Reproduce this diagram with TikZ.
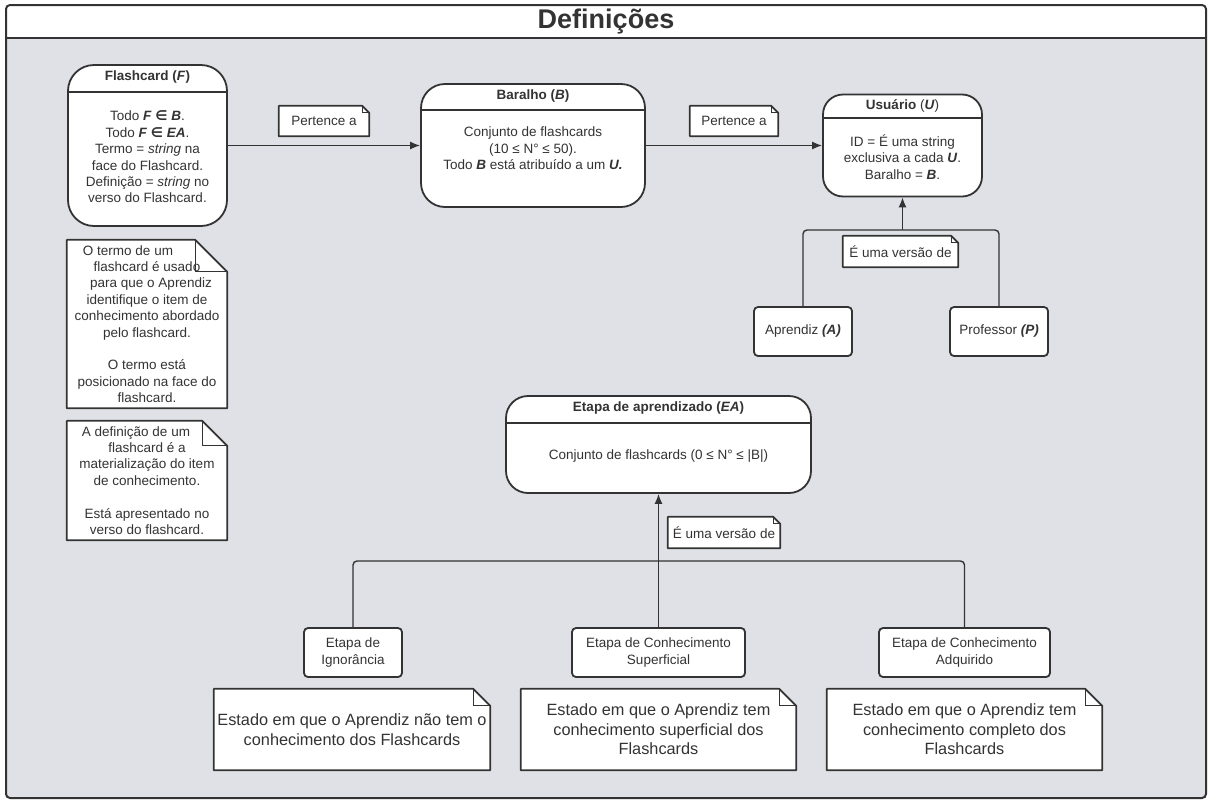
\documentclass[tikz,border=0pt]{standalone}
\usepackage{fontspec}
\setmainfont{Liberation Sans}
\newfontfamily\dejavu{DejaVu Sans}
\usetikzlibrary{arrows.meta}
\definecolor{ink}{HTML}{333333}
\definecolor{canvasbg}{HTML}{DFE1E6}
\newcommand\elem{{\dejavu\bfseries ∈}}
\newcommand\dogear[2]{%
  \fill[canvasbg] ([xshift=-#2pt,yshift=1pt]#1.north east) -- ([xshift=1pt,yshift=1pt]#1.north east) -- ([xshift=1pt,yshift=-#2pt]#1.north east) -- cycle;
  \draw[ink, line width=1.7pt, line join=round] (#1.north west) -- ([xshift=-#2pt]#1.north east) -- ([yshift=-#2pt]#1.north east) -- (#1.south east) -- (#1.south west) -- cycle;
  \draw[ink, line width=1.2pt] ([xshift=-#2pt]#1.north east) -- ([xshift=-#2pt,yshift=-#2pt]#1.north east) -- ([yshift=-#2pt]#1.north east);
}
\tikzset{
  basefont/.style={font=\fontsize{13.5}{16.4}\selectfont, text=ink},
  hbox/.style={draw=ink, fill=white, line width=1.8pt, inner sep=0pt},
  sbox/.style={draw=ink, fill=white, line width=1.8pt, rounded corners=4pt, align=center, inner sep=0pt, basefont},
  notebox/.style={fill=white, draw=none, align=center, inner sep=0pt, basefont},
  bignote/.style={notebox, font=\fontsize{16.3}{19.6}\selectfont},
  txt/.style={align=center, inner sep=0pt, basefont},
  hline/.style={draw=ink, line width=1.8pt},
  conn/.style={draw=ink, line width=1.4pt, rounded corners=4pt},
  arr/.style={conn, -{Latex[length=10pt,width=8pt]}},
}
\begin{document}
\begin{tikzpicture}[x=1pt,y=-1pt]
\useasboundingbox (0,0) rectangle (1210,801);
% frame
\fill[white, rounded corners=4pt] (6,5) rectangle (1206,798);
\fill[canvasbg] (6,38) rectangle (1206,798);
\draw[ink, line width=2pt, rounded corners=4pt] (6,5) rectangle (1206,798);
\draw[ink, line width=2pt] (6,38) -- (1206,38);
\node[font=\fontsize{27}{30}\selectfont\bfseries, text=ink, inner sep=0pt] (title) at (606,22) {Definições};

% Flashcard
\node[hbox, rounded corners=26pt, minimum width=159pt, minimum height=161pt] (F) at (147.5,145.5) {};
\draw[hline] (F.west |- 0,92) -- (F.east |- 0,92);
\node[txt] (Ft) at (147.5,77) {\textbf{Flashcard (\textit{F})}};
\node[txt] (Fb) at (147.5,157) {Todo \textbf{\textit{F} \elem{} \textit{B}}.\\
Todo \textbf{\textit{F} \elem{} \textit{EA}}.\\
Termo = \textit{string} na\\
face do Flashcard.\\
Definição = \textit{string} no\\
verso do Flashcard.};

% Baralho
\node[hbox, rounded corners=24pt, minimum width=224pt, minimum height=123pt] (B) at (533,145.5) {};
\draw[hline] (B.west |- 0,110) -- (B.east |- 0,110);
\node[txt] (Bt) at (533,96) {\textbf{Baralho (\textit{B})}};
\node[txt] (Bb) at (533,148.5) {Conjunto de flashcards\\(10 ≤ N° ≤ 50).\\Todo \textbf{\textit{B}} está atribuído a um \textbf{\textit{U.}}};

% Usuario
\node[hbox, rounded corners=20pt, minimum width=159pt, minimum height=102pt] (U) at (902.5,145.5) {};
\draw[hline] (U.west |- 0,118) -- (U.east |- 0,118);
\node[txt] (Ut) at (902.5,106) {\textbf{Usuário} (\textbf{\textit{U}})};
\node[txt] (Ub) at (902.5,157) {ID = É uma string\\exclusiva a cada \textbf{\textit{U}}.\\Baralho = \textbf{\textit{B}}.};

% Etapa de aprendizado
\node[hbox, rounded corners=22pt, minimum width=305pt, minimum height=97pt] (EA) at (658.5,444.5) {};
\draw[hline] (EA.west |- 0,423) -- (EA.east |- 0,423);
\node[txt] (EAt) at (658.5,408) {\textbf{Etapa de aprendizado (\textit{EA})}};
\node[txt] (EAb) at (658.5,456) {Conjunto de flashcards (0 ≤ N° ≤ |B|)};

% small boxes
\node[sbox, minimum width=98pt, minimum height=49pt] (A) at (803,331.5) {Aprendiz \textbf{\textit{(A)}}};
\node[sbox, minimum width=98pt, minimum height=49pt] (P) at (999,331.5) {Professor \textbf{\textit{(P)}}};
\node[sbox, minimum width=98pt, minimum height=49pt] (I) at (353,652.5) {Etapa de\\Ignorância};
\node[sbox, minimum width=173pt, minimum height=49pt] (S) at (658.5,652.5) {Etapa de Conhecimento\\Superficial};
\node[sbox, minimum width=171pt, minimum height=49pt] (Q) at (964.5,652.5) {Etapa de Conhecimento\\Adquirido};

% connectors
\coordinate (uj) at (902.5,230);
\coordinate (ej) at (658.5,561);
\draw[arr] (F.east) -- (B.west);
\draw[arr] (B.east) -- (U.west);
\draw[conn] (A.north) |- (uj);
\draw[conn] (P.north) |- (uj);
\draw[arr] (uj) -- (U.south);
\draw[conn] (I.north) |- (ej);
\draw[conn] (Q.north) |- (ej);
\draw[arr] (S.north) -- (EA.south);

% labels (notes)
\node[notebox, minimum width=90pt, minimum height=30pt] (p1) at (324,121) {Pertence a};
\dogear{p1}{7}
\node[notebox, minimum width=88pt, minimum height=30pt] (p2) at (734,121) {Pertence a};
\dogear{p2}{7}
\node[notebox, minimum width=115pt, minimum height=31pt] (v1) at (900.5,251.5) {É uma versão de};
\dogear{v1}{7}
\node[notebox, minimum width=112pt, minimum height=31pt] (v2) at (724,532.5) {É uma versão de};
\dogear{v2}{7}

% side notes
\node[notebox, minimum width=160pt, minimum height=168pt] (n1) at (147,324) {O termo de um\hspace*{38pt}\\
flashcard é usado\hspace*{32pt}\\
\hspace*{8pt}para que o Aprendiz\\
identifique o item de\\
conhecimento abordado\\
pelo flashcard.\\[16.4pt]
O termo está\\
posicionado na face do\\
flashcard.};
\dogear{n1}{32}
\node[notebox, minimum width=160pt, minimum height=119pt] (n2) at (147,480.5) {A definição de um\hspace*{22pt}\\
flashcard é a\hspace*{40pt}\\
materialização do item\\
de conhecimento.\\[16.4pt]
Está apresentado no\\
verso do flashcard.};
\dogear{n2}{25}

% bottom notes
\node[bignote, minimum width=276pt, minimum height=81pt] (e1) at (352,729.5) {Estado em que o Aprendiz não tem o\\conhecimento dos Flashcards};
\dogear{e1}{17}
\node[bignote, minimum width=275pt, minimum height=81pt] (e2) at (658.5,729.5) {Estado em que o Aprendiz tem\\conhecimento superficial dos\\Flashcards};
\dogear{e2}{17}
\node[bignote, minimum width=275pt, minimum height=81pt] (e3) at (964.5,729.5) {Estado em que o Aprendiz tem\\conhecimento completo dos\\Flashcards};
\dogear{e3}{17}
\end{tikzpicture}
\end{document}
